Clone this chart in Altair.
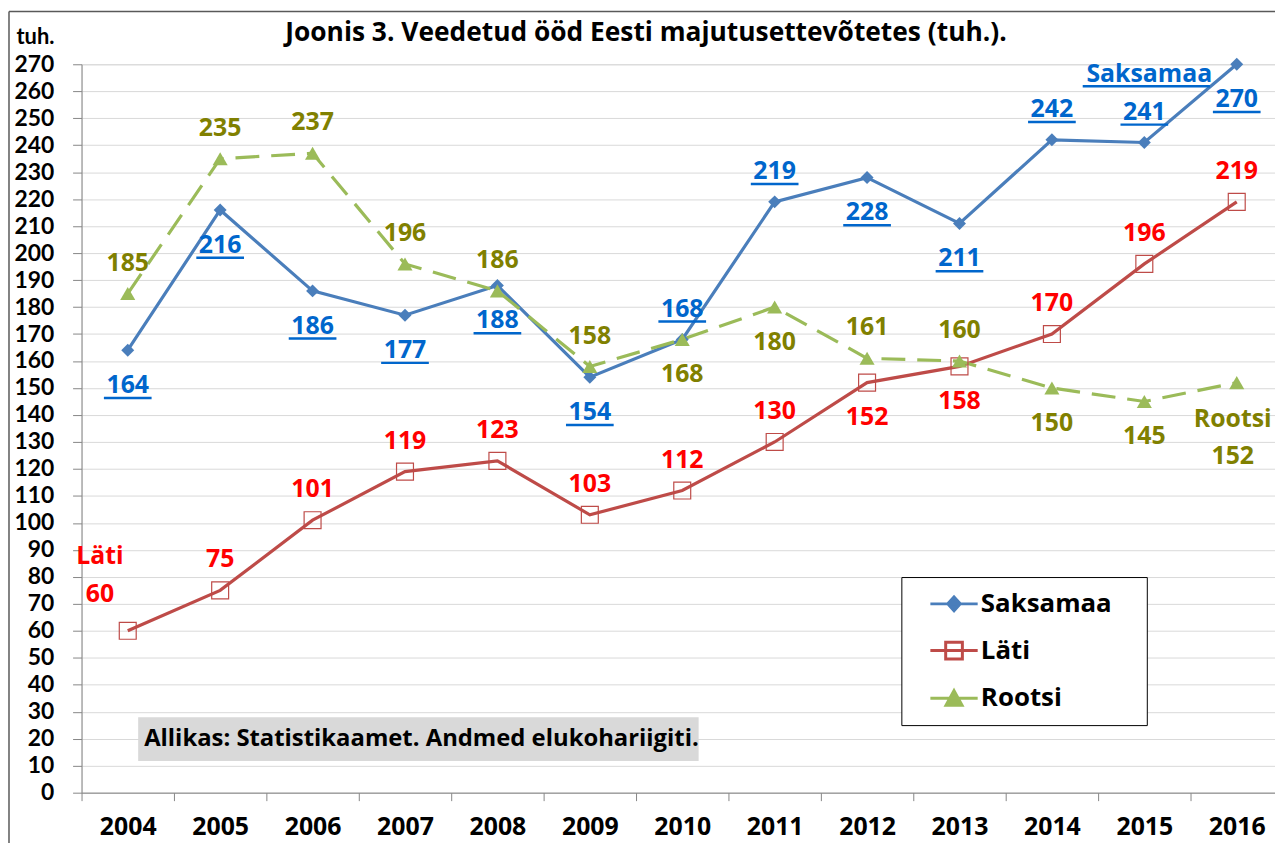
import altair as alt
import pandas as pd

# ---------------- data ----------------
years = list(range(2004, 2017))
series_names = ["Saksamaa", "Läti", "Rootsi"]
saksamaa = [164, 216, 186, 177, 188, 154, 168, 219, 228, 211, 242, 241, 270]
lati = [60, 75, 101, 119, 123, 103, 112, 130, 152, 158, 170, 196, 219]
rootsi = [185, 235, 237, 196, 186, 158, 168, 180, 161, 160, 150, 145, 152]

# where each value label sits relative to its point
saks_pos = ["below"] * 6 + ["above", "above", "below", "below", "above", "above", "below"]
lati_pos = ["name"] + ["above"] * 7 + ["below", "below", "above", "above", "above"]
rootsi_pos = ["above"] * 6 + ["below", "below", "above", "above", "below", "below", "name"]
name_year = {"Saksamaa": 2016, "Läti": 2004, "Rootsi": 2016}

line_colors = ["#4a7ebb", "#be4b48", "#9bbb59"]
label_colors = ["#0066cc", "#ff0000", "#808000"]
title_text = "Joonis 3. Veedetud ööd Eesti majutusettevõtetes (tuh.)."
y_title = "tuh."
source_text = "Allikas: Statistikaamet. Andmed elukohariigiti."
x_tick_values = [y - 0.5 for y in years]
y_tick_values = list(range(0, 271, 10))

rows = []
for name, vals, pos in zip(series_names, [saksamaa, lati, rootsi], [saks_pos, lati_pos, rootsi_pos]):
    for yr, v, p in zip(years, vals, pos):
        rows.append({"series": name, "year": yr, "value": v, "pos": p,
                     "isname": yr == name_year[name]})
df = pd.DataFrame(rows)

FONT = "Open Sans"
FONT_AX = "Lato"
PX_PER_YEAR = 93
W = 1201
H = 733
x_scale = alt.Scale(domain=[2003.5, 2003.5 + W / PX_PER_YEAR], nice=False, zero=False)
y_scale = alt.Scale(domain=[0, 270], nice=False)

x_axis = alt.Axis(values=x_tick_values, labelExpr="format(datum.value + 0.5, 'd')",
                  labelOffset=PX_PER_YEAR / 2, tickSize=8, tickColor="#868686",
                  domainColor="#868686", labelFont=FONT, labelFontSize=25,
                  labelFontWeight="bold", labelColor="black", labelPadding=14,
                  grid=False, title=None, labelFlush=False, labelOverlap=False)
y_axis = alt.Axis(values=y_tick_values, tickSize=9, tickColor="#868686",
                  domainColor="#868686", labelFont=FONT_AX, labelFontSize=23,
                  labelFontWeight="bold", labelColor="black", labelPadding=19,
                  grid=True, gridColor="#d9d9d9", title=y_title, titleAngle=0,
                  titleAlign="left", titleBaseline="middle", titleX=-66, titleY=-28,
                  titleFont=FONT_AX, titleFontSize=22, titleFontWeight="bold", titleColor="black")

base = alt.Chart(df).encode(
    x=alt.X("year:Q", scale=x_scale, axis=x_axis),
    y=alt.Y("value:Q", scale=y_scale, axis=y_axis),
)

layers = []

# lines
for name, col in zip(series_names, line_colors):
    kw = dict(color=col, strokeWidth=3.2)
    if name == "Rootsi":
        kw["strokeDash"] = [24, 12]
    layers.append(base.transform_filter(alt.datum.series == name).mark_line(**kw))

# markers
layers.append(base.transform_filter(alt.datum.series == "Saksamaa")
              .mark_point(shape="diamond", filled=True, size=170, color=line_colors[0], opacity=1))
layers.append(base.transform_filter(alt.datum.series == "Läti")
              .mark_point(shape="square", filled=False, size=290, color=line_colors[1],
                          strokeWidth=1.2, opacity=1))
layers.append(base.transform_filter(alt.datum.series == "Rootsi")
              .mark_point(shape="triangle-up", filled=True, size=230, color=line_colors[2], opacity=1))

# value labels
OFF = {"above": -31, "below": 35}
txt_kw = dict(font=FONT, fontSize=25, fontWeight="bold", align="center", baseline="middle")
for name, col in zip(series_names, label_colors):
    for p, dy in OFF.items():
        sel = base.transform_filter((alt.datum.series == name) & (alt.datum.pos == p))
        layers.append(sel.mark_text(color=col, dy=dy, **txt_kw)
                      .encode(text=alt.Text("value:Q", format="d")))
        if name == "Saksamaa":
            layers.append(sel.mark_point(shape="M-1,0H1", size=48 ** 2, strokeWidth=2.5,
                                         color=col, opacity=1, yOffset=dy + 13))

# series-name labels
lat_n = base.transform_filter((alt.datum.series == "Läti") & alt.datum.isname)
layers.append(lat_n.mark_text(color=label_colors[1], dx=-28, dy=-37, **txt_kw)
              .encode(text=alt.Text("value:Q", format="d")))
layers.append(lat_n.mark_text(color=label_colors[1], dx=-28, dy=-75, **txt_kw)
              .encode(text="series:N"))
roo_n = base.transform_filter((alt.datum.series == "Rootsi") & alt.datum.isname)
layers.append(roo_n.mark_text(color=label_colors[2], dx=-4, dy=74, **txt_kw)
              .encode(text=alt.Text("value:Q", format="d")))
layers.append(roo_n.mark_text(color=label_colors[2], dx=-4, dy=37, **txt_kw)
              .encode(text="series:N"))
sak_n = base.transform_filter((alt.datum.series == "Saksamaa") & alt.datum.isname)
layers.append(sak_n.mark_text(color=label_colors[0], dx=-88, dy=10, **txt_kw)
              .encode(text="series:N"))
layers.append(sak_n.mark_point(shape="M-1,0H1", size=128 ** 2, strokeWidth=2.5,
                               color=label_colors[0], opacity=1, xOffset=-91, yOffset=22))

# legend (symbols built as line + marker; trailing move-to widens the box)
leg_paths = ["M-3.4,0H3.4M0,-1L0.9,0L0,1L-0.9,0ZM24.8,0",
             "M-3.4,0H3.4M-1.2,-1.2H1.2V1.2H-1.2ZM24.8,0",
             "M-3.4,0H3.4M0,-1.1L1.15,1L-1.15,1ZM24.8,0"]
leg_fill = [line_colors[0], "transparent", line_colors[2]]
leg_df = pd.DataFrame({"series": series_names})
legend = alt.Legend(title=None, orient="none", legendX=825, legendY=516,
                    strokeColor="black", fillColor="white", padding=14,
                    labelFont=FONT, labelFontSize=26, labelFontWeight="bold", labelColor="black",
                    symbolSize=196, symbolStrokeWidth=3, symbolOffset=26, labelOffset=14,
                    rowPadding=19, labelLimit=400)
layers.append(alt.Chart(leg_df).mark_point(clip=True, opacity=1, strokeWidth=3).encode(
    x=alt.value(-500), y=alt.value(-500),
    shape=alt.Shape("series:N", scale=alt.Scale(domain=series_names, range=leg_paths), legend=legend),
    stroke=alt.Stroke("series:N", scale=alt.Scale(domain=series_names, range=line_colors)),
    fill=alt.Fill("series:N", scale=alt.Scale(domain=series_names, range=leg_fill)),
))

# source note
src_df = pd.DataFrame({"t": [source_text]})
layers.append(alt.Chart(src_df).mark_rect(color="#d9d9d9").encode(
    x=alt.value(57), x2=alt.value(621), y=alt.value(657), y2=alt.value(701)))
layers.append(alt.Chart(src_df).mark_text(font=FONT, fontSize=24, fontWeight="bold",
                                          align="left", baseline="middle", color="black")
              .encode(x=alt.value(63), y=alt.value(679), text="t:N"))

# title
ttl_df = pd.DataFrame({"t": [title_text]})
layers.append(alt.Chart(ttl_df).mark_text(font=FONT, fontSize=26.5, fontWeight="bold",
                                          align="center", baseline="middle", color="black")
              .encode(x=alt.value(568), y=alt.value(-31), text="t:N"))

# outer chart border
layers.append(alt.Chart(ttl_df).mark_rule(color="#595959", strokeWidth=1.5).encode(
    x=alt.value(-73), y=alt.value(-53), y2=alt.value(790)))
layers.append(alt.Chart(ttl_df).mark_rule(color="#595959", strokeWidth=1.5).encode(
    x=alt.value(-73), x2=alt.value(W), y=alt.value(-53)))

chart = alt.layer(*layers).properties(
    width=W, height=H,
    padding={"left": 74, "top": 54, "right": 0, "bottom": 48},
    autosize=alt.AutoSizeParams(type="none"),
).configure_view(stroke=None).configure(font=FONT)

chart.save("out.html", embed_options={"renderer": "svg", "actions": False})
